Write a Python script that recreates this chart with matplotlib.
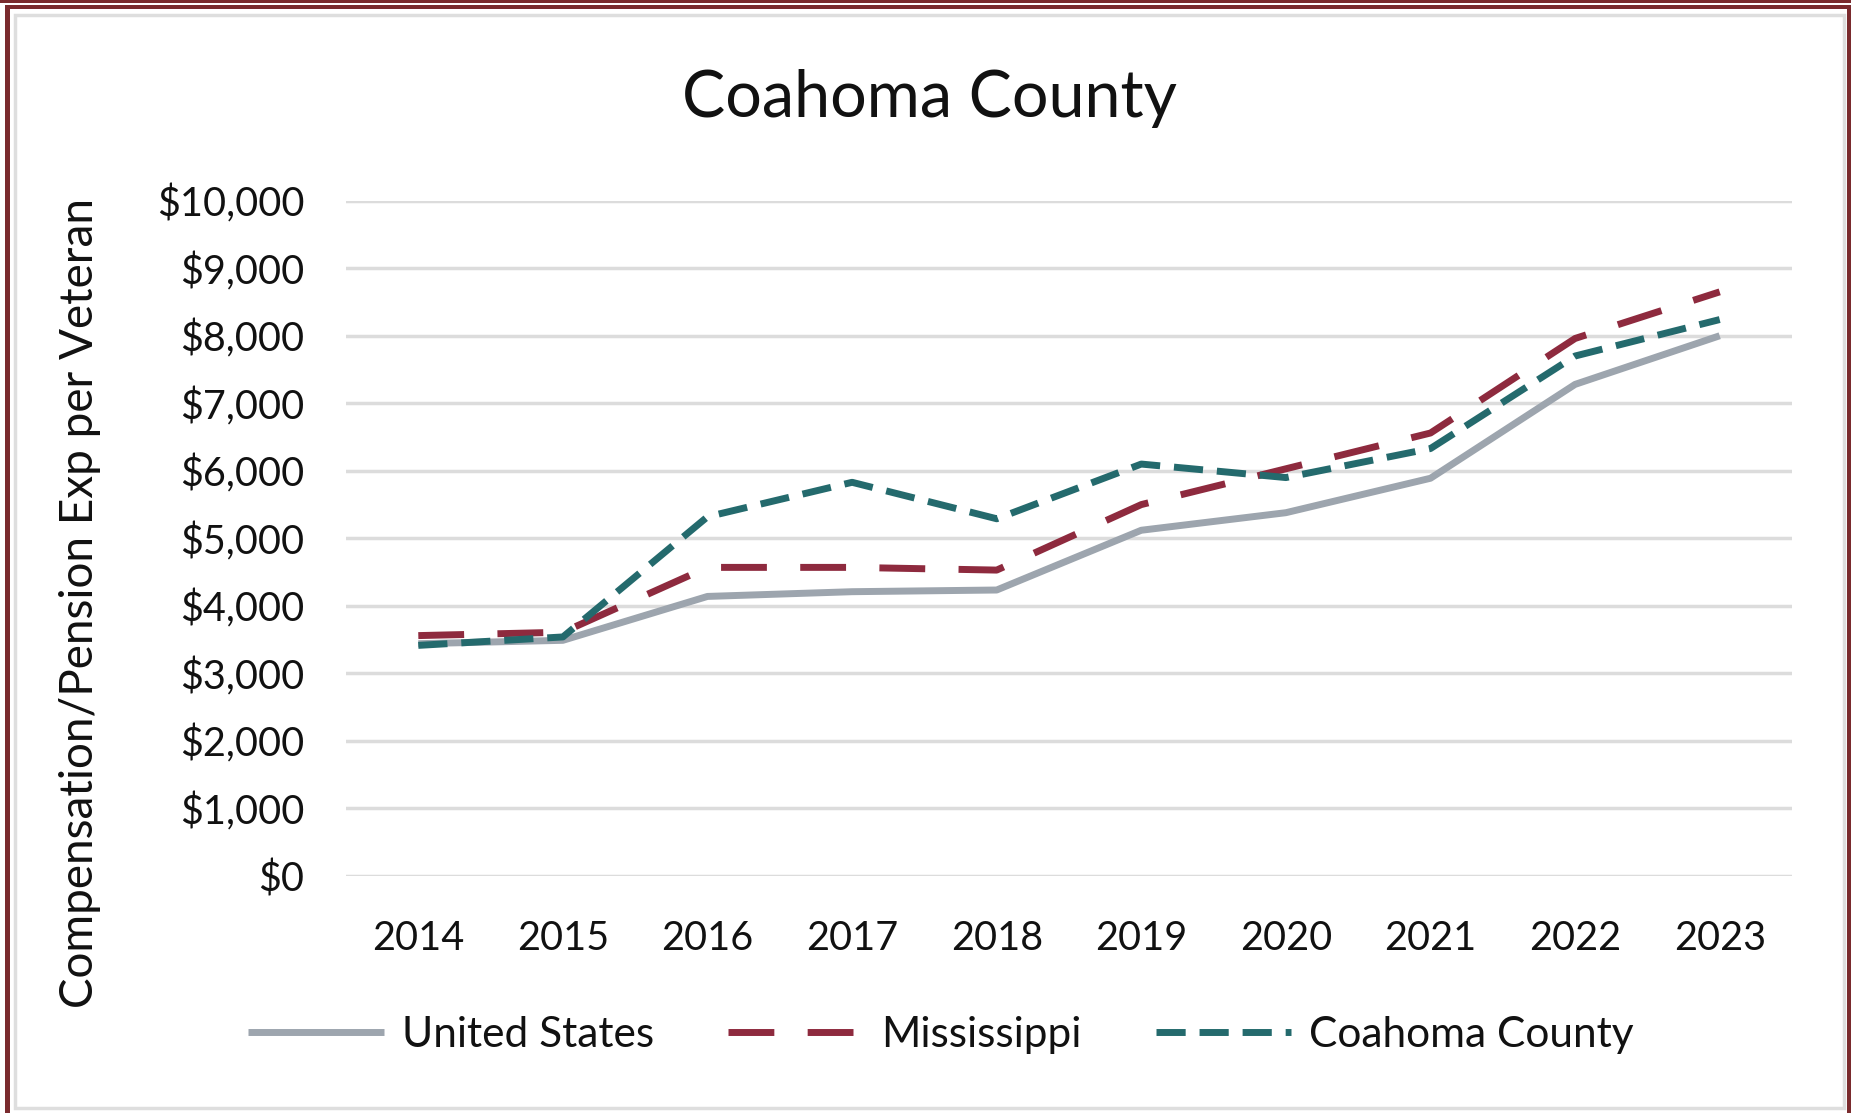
import matplotlib
matplotlib.use("Agg")
import matplotlib.pyplot as plt
from matplotlib.lines import Line2D
from matplotlib.patches import Rectangle
from matplotlib.ticker import FuncFormatter

years = ["2014", "2015", "2016", "2017", "2018", "2019", "2020", "2021", "2022", "2023"]
united_states = [3440, 3490, 4140, 4210, 4235, 5120, 5380, 5890, 7280, 8000]
mississippi = [3560, 3610, 4570, 4570, 4530, 5500, 6030, 6560, 7960, 8650]
coahoma = [3415, 3540, 5320, 5830, 5290, 6100, 5900, 6330, 7700, 8240]
series_names = ["United States", "Mississippi", "Coahoma County"]
yticks = [0, 1000, 2000, 3000, 4000, 5000, 6000, 7000, 8000, 9000, 10000]

W, H = 1851, 1113
plt.rcParams['font.family'] = ['Lato', 'DejaVu Sans']
fig = plt.figure(figsize=(W / 100, H / 100), dpi=100)

def fx(px):
    return px / W

def fy(py):
    return 1 - py / H

# frame
maroon = "#7A2B2E"
fig.add_artist(Rectangle((0, fy(3)), 1, 3 / H, transform=fig.transFigure, color=maroon, lw=0))
fig.add_artist(Rectangle((fx(5), fy(9)), 1 - fx(5), 4 / H, transform=fig.transFigure, color=maroon, lw=0))
fig.add_artist(Rectangle((fx(5), 0), 5 / W, fy(9), transform=fig.transFigure, color=maroon, lw=0))
fig.add_artist(Rectangle((fx(1847), 0), 4 / W, fy(9), transform=fig.transFigure, color=maroon, lw=0))
fig.add_artist(Rectangle((fx(14.5), fy(1108)), fx(1843.5) - fx(14.5), fy(14.5) - fy(1108),
                         transform=fig.transFigure, fill=False, edgecolor="#DEDEDE", lw=2.5))

ax = fig.add_axes([fx(346), fy(876), fx(1792) - fx(346), fy(200.7) - fy(876)])
x = list(range(len(years)))
l1, = ax.plot(x, united_states, color="#9DA5AE", lw=5, solid_capstyle="butt", label=series_names[0], zorder=3)
l2, = ax.plot(x, mississippi, color="#8E2A3E", lw=5, linestyle=(0, (6.6, 4.8)), label=series_names[1], zorder=4)
l3, = ax.plot(x, coahoma, color="#246A6D", lw=5, linestyle=(0, (4.2, 2.0)), label=series_names[2], zorder=5)

ax.set_xlim(-0.5, len(years) - 0.5)
ax.set_ylim(0, 10000)
ax.set_yticks(yticks)
ax.yaxis.set_major_formatter(FuncFormatter(lambda v, p: "${:,.0f}".format(v)))
ax.set_xticks(x)
ax.set_xticklabels(years)
ax.grid(axis="y", color="#DCDCDC", lw=2.5, zorder=0)
ax.set_axisbelow(True)
for s in ax.spines.values():
    s.set_visible(False)
ax.tick_params(axis="both", length=0, labelsize=28.5, labelcolor="#111111")
ax.tick_params(axis="y", pad=30)
ax.tick_params(axis="x", pad=32)

fig.text(fx(929), fy(98), "Coahoma County", ha="center", va="center", fontsize=46.5, color="#111111")
fig.text(fx(80), fy(603), "Compensation/Pension Exp per Veteran", rotation=90,
         ha="center", va="center", fontsize=33, color="#111111")

fig.legend(handles=[l1, l2, l3], loc="center", bbox_to_anchor=(fx(941), fy(1035)), ncol=3,
           frameon=False, fontsize=30.5, handlelength=3.2, handletextpad=0.42, columnspacing=1.75,
           labelcolor="#111111")

fig.savefig("out.png", dpi=100)
